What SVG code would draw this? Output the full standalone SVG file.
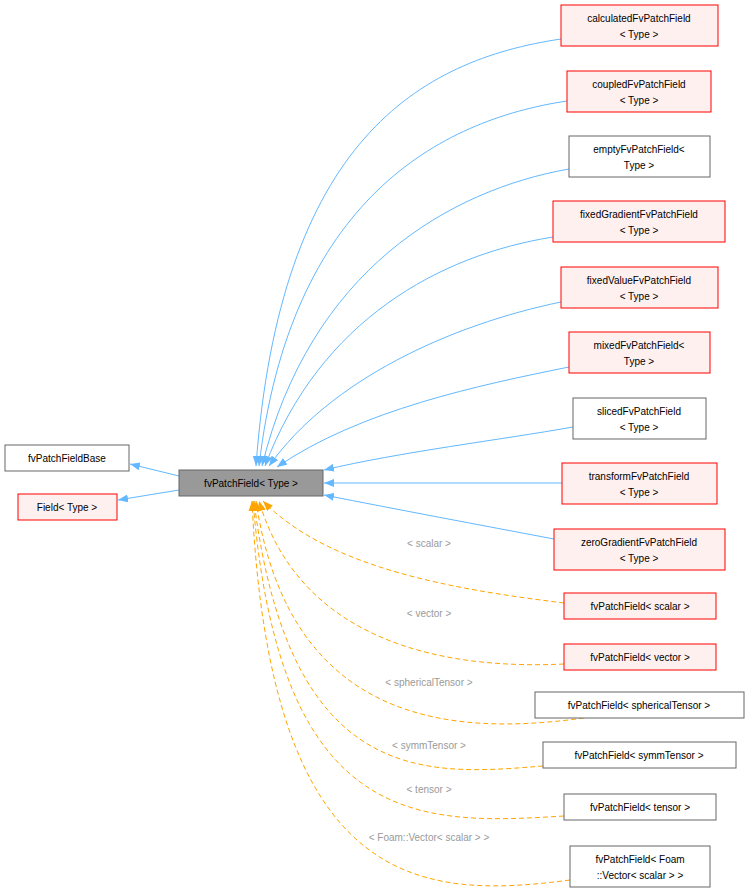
<svg xmlns="http://www.w3.org/2000/svg" width="749" height="896" viewBox="0 0 749 896">
<style>
text{font-family:"Liberation Sans",Arial,sans-serif;font-size:10px;text-anchor:middle;fill:#000}
.r{fill:#fff0f0;stroke:#ff0000;stroke-width:1}
.g{fill:#fff;stroke:#666;stroke-width:1}
.b{fill:none;stroke:#63b8ff;stroke-width:1;marker-end:url(#mb)}
.d{fill:none;stroke:#ffa500;stroke-width:1;stroke-dasharray:5,3;marker-end:url(#mo)}
.l{fill:#9a9a9a}
</style>
<defs>
<marker id="mb" markerWidth="11" markerHeight="8" refX="10" refY="4" orient="auto" markerUnits="userSpaceOnUse"><path d="M0,0L10,4L0,8z" fill="#63b8ff"/></marker>
<marker id="mo" markerWidth="11" markerHeight="8" refX="10" refY="4" orient="auto" markerUnits="userSpaceOnUse"><path d="M0,0L10,4L0,8z" fill="#ffa500"/></marker>
</defs>
<rect width="749" height="896" fill="#fff"/>
<g id="edges">
<path class="b" d="M179,476 L130,464"/>
<path class="b" d="M179,490 L118,500"/>
<path class="b" d="M561,39 C420,60 280,140 256,466"/>
<path class="b" d="M567,101 C440,120 290,200 259,466"/>
<path class="b" d="M569,169 C450,190 310,270 262,466"/>
<path class="b" d="M553,237 C440,255 320,320 265,466"/>
<path class="b" d="M561,302 C450,325 330,380 269,466"/>
<path class="b" d="M569,367 C480,385 360,410 277,467"/>
<path class="b" d="M573,427 C500,440 400,452 324,470"/>
<path class="b" d="M562,483 L324,483"/>
<path class="b" d="M554,539 C480,525 400,510 324,495"/>
<path class="d" d="M564,603 C460,590 330,570 263,501"/>
<path class="d" d="M564,664 C440,670 300,640 259,501"/>
<path class="d" d="M584,718 C460,735 290,730 256,501"/>
<path class="d" d="M543,766 C430,775 290,790 254,501"/>
<path class="d" d="M564,816 C420,825 280,830 253,501"/>
<path class="d" d="M570,880 C420,900 270,890 252,501"/>
</g>
<g id="labels">
<text class="l" x="429" y="547">&lt; scalar &gt;</text>
<text class="l" x="429" y="617">&lt; vector &gt;</text>
<text class="l" x="429" y="686">&lt; sphericalTensor &gt;</text>
<text class="l" x="429" y="749">&lt; symmTensor &gt;</text>
<text class="l" x="429" y="793">&lt; tensor &gt;</text>
<text class="l" x="429" y="841">&lt; Foam::Vector&lt; scalar &gt; &gt;</text>
</g>
<g id="center"><rect x="179" y="470" width="144" height="26" fill="#999" stroke="#666"/><text x="251" y="487">fvPatchField&lt; Type &gt;</text></g>
<g id="base"><rect class="g" x="5" y="445" width="124" height="26"/><text x="67" y="462">fvPatchFieldBase</text></g>
<g id="field"><rect class="r" x="18" y="494" width="99" height="26"/><text x="67" y="511">Field&lt; Type &gt;</text></g>
<g id="calc"><rect class="r" x="561" y="5" width="157" height="41"/><text x="639" y="22">calculatedFvPatchField</text><text x="639" y="38">&lt; Type &gt;</text></g>
<g id="coupled"><rect class="r" x="567" y="71" width="144" height="41"/><text x="639" y="88">coupledFvPatchField</text><text x="639" y="104">&lt; Type &gt;</text></g>
<g id="empty"><rect class="g" x="569" y="136" width="141" height="41"/><text x="639" y="153">emptyFvPatchField&lt;</text><text x="639" y="169">Type &gt;</text></g>
<g id="fixedGrad"><rect class="r" x="553" y="201" width="172" height="41"/><text x="639" y="218">fixedGradientFvPatchField</text><text x="639" y="234">&lt; Type &gt;</text></g>
<g id="fixedVal"><rect class="r" x="561" y="267" width="157" height="41"/><text x="639" y="284">fixedValueFvPatchField</text><text x="639" y="300">&lt; Type &gt;</text></g>
<g id="mixed"><rect class="r" x="569" y="332" width="141" height="41"/><text x="639" y="349">mixedFvPatchField&lt;</text><text x="639" y="365">Type &gt;</text></g>
<g id="sliced"><rect class="g" x="573" y="398" width="133" height="41"/><text x="639" y="415">slicedFvPatchField</text><text x="639" y="431">&lt; Type &gt;</text></g>
<g id="transform"><rect class="r" x="562" y="463" width="155" height="41"/><text x="639" y="480">transformFvPatchField</text><text x="639" y="496">&lt; Type &gt;</text></g>
<g id="zeroGrad"><rect class="r" x="554" y="529" width="171" height="41"/><text x="639" y="546">zeroGradientFvPatchField</text><text x="639" y="562">&lt; Type &gt;</text></g>
<g id="scalar"><rect class="r" x="564" y="593" width="152" height="26"/><text x="640" y="610">fvPatchField&lt; scalar &gt;</text></g>
<g id="vector"><rect class="r" x="564" y="644" width="152" height="26"/><text x="640" y="661">fvPatchField&lt; vector &gt;</text></g>
<g id="spherical"><rect class="g" x="535" y="692" width="209" height="26"/><text x="639" y="709">fvPatchField&lt; sphericalTensor &gt;</text></g>
<g id="symm"><rect class="g" x="543" y="742" width="193" height="26"/><text x="639" y="759">fvPatchField&lt; symmTensor &gt;</text></g>
<g id="tensor"><rect class="g" x="564" y="794" width="152" height="26"/><text x="640" y="811">fvPatchField&lt; tensor &gt;</text></g>
<g id="foam"><rect class="g" x="570" y="846" width="140" height="41"/><text x="640" y="863">fvPatchField&lt; Foam</text><text x="640" y="879">::Vector&lt; scalar &gt; &gt;</text></g>
</svg>
